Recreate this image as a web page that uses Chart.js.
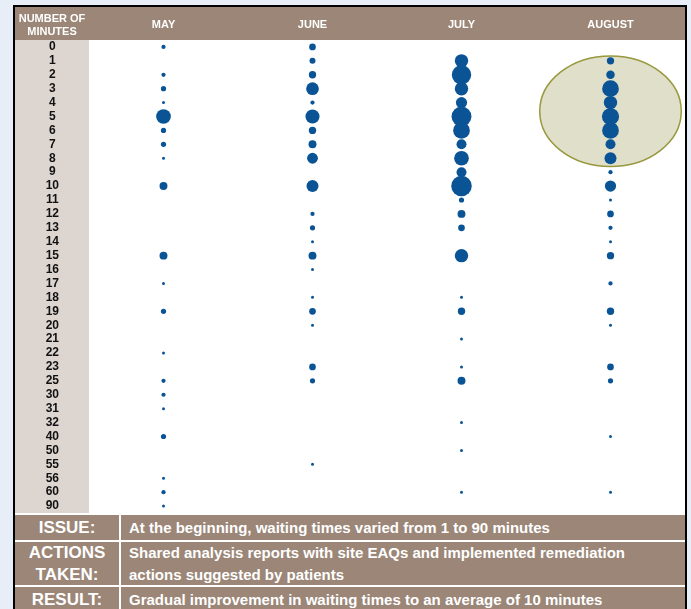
<!DOCTYPE html>
<html>
<head>
<meta charset="utf-8">
<script src="https://cdn.jsdelivr.net/npm/chart.js@4.4.1/dist/chart.umd.min.js"></script>
<style>
  html, body { margin: 0; padding: 0; }
  body {
    width: 691px; height: 609px; overflow: hidden; position: relative;
    background: #e8eef8;
    font-family: "Liberation Sans Narrow", "Arial Narrow", "Liberation Sans", sans-serif;
  }
  #frame {
    position: absolute; left: 13px; top: 5px; width: 670px; height: 610px;
    border: 2px solid #000; border-bottom: none; background: #9b8677;
  }
  #plot { position: absolute; left: 0; top: 0; width: 670px; height: 506px; }
  #notes { position: absolute; left: 0; top: 506px; width: 670px; }
  .row { display: flex; border-top: 2px solid #fff; color: #fff; font-weight: bold; font-size: 15px; }
  .k { width: 104px; border-right: 2px solid #fff; text-align: center; font-size: 17px; }
  .v { flex: 1; padding-left: 8px; }
  .r1 { line-height: 25px; }
  .r2 { line-height: 21.5px; }
  .r3 { line-height: 26px; }
</style>
</head>
<body>
<div id="frame">
  <canvas id="plot" width="670" height="506"></canvas>
  <div id="notes">
    <div class="row r1"><div class="k">ISSUE:</div><div class="v">At the beginning, waiting times varied from 1 to 90 minutes</div></div>
    <div class="row r2"><div class="k">ACTIONS<br>TAKEN:</div><div class="v">Shared analysis reports with site EAQs and implemented remediation<br>actions suggested by patients</div></div>
    <div class="row r3"><div class="k">RESULT:</div><div class="v">Gradual improvement in waiting times to an average of 10 minutes</div></div>
  </div>
</div>
<script>
// months across the top, minute rows down the side
const months = ['MAY', 'JUNE', 'JULY', 'AUGUST'];
const minuteLabels = ['0','1','2','3','4','5','6','7','8','9','10','11','12','13','14','15','16','17',
  '18','19','20','21','22','23','25','30','31','32','40','50','55','56','60','90'];
const cornerTitle = ['NUMBER OF', 'MINUTES'];

// estimated number of patients per minute row (0 = no dot), one per month
const mayCounts    = [2,0,2,3,1,24,3,3,1,0, 7,0,0,0,0,7,0,1,0,3, 0,0,1,0,2,2,1,0,3,0, 0,1,2,1];
const juneCounts   = [5,4,6,18,2,22,6,7,13,0, 16,0,2,3,1,7,1,0,1,5, 1,0,0,5,3,0,0,0,0,0, 1,0,0,0];
const julyCounts   = [0,20,42,20,14,44,31,11,24,11, 47,3,7,5,0,20,0,0,1,6, 0,1,0,1,7,0,0,1,0,1, 0,0,1,0];
const augustCounts = [0,6,8,31,20,33,31,11,16,2, 14,1,5,2,1,6,0,2,0,6, 1,0,0,5,3,0,0,0,1,0, 0,0,1,0];

const highlight = { column: 'AUGUST', from: '1', to: '8' };

const BROWN = '#9b8677';
const BEIGE = '#ddd5d0';
const DOT = '#0a5496';
const FONT = '"Liberation Sans Narrow", "Arial Narrow", "Liberation Sans", sans-serif';

const monthCounts = [mayCounts, juneCounts, julyCounts, augustCounts];
const points = [];
monthCounts.forEach((counts, m) => {
  counts.forEach((n, i) => {
    if (n > 0) points.push({ x: months[m], y: minuteLabels[i], r: 1.5 * Math.sqrt(n) });
  });
});

const panelPaint = {
  id: 'panelPaint',
  beforeDraw(chart) {
    const { ctx, chartArea: a, width } = chart;
    ctx.save();
    ctx.fillStyle = BROWN;
    ctx.fillRect(0, 0, width, a.top);
    ctx.fillStyle = BEIGE;
    ctx.fillRect(0, a.top, a.left, a.bottom - a.top);
    ctx.fillStyle = '#fff';
    ctx.fillRect(a.left, a.top, a.right - a.left, a.bottom - a.top);
    ctx.font = 'bold 11px ' + FONT;
    ctx.textAlign = 'center';
    ctx.textBaseline = 'middle';
    ctx.fillText(cornerTitle[0], a.left / 2, a.top / 2 - 5);
    ctx.fillText(cornerTitle[1], a.left / 2, a.top / 2 + 8);
    ctx.restore();
  }
};

const ellipseMark = {
  id: 'ellipseMark',
  beforeDatasetsDraw(chart) {
    const { ctx, scales: { x, y } } = chart;
    const cx = x.getPixelForValue(months.indexOf(highlight.column));
    const top = y.getPixelForValue(minuteLabels.indexOf(highlight.from) - 0.35);
    const bottom = y.getPixelForValue(minuteLabels.indexOf(highlight.to) + 0.6);
    const rx = (x.getPixelForValue(1) - x.getPixelForValue(0)) * 0.475;
    ctx.save();
    ctx.beginPath();
    ctx.ellipse(cx, (top + bottom) / 2, rx, (bottom - top) / 2, 0, 0, Math.PI * 2);
    ctx.fillStyle = '#e0dfca';
    ctx.fill();
    ctx.lineWidth = 1.5;
    ctx.strokeStyle = '#98983e';
    ctx.stroke();
    ctx.restore();
  }
};

new Chart(document.getElementById('plot'), {
  type: 'bubble',
  data: {
    datasets: [{
      data: points,
      backgroundColor: DOT,
      borderWidth: 0,
      hoverRadius: 0,
      clip: false
    }]
  },
  options: {
    responsive: false,
    animation: false,
    devicePixelRatio: 1,
    layout: { padding: 0, autoPadding: false },
    plugins: { legend: { display: false }, tooltip: { enabled: false } },
    scales: {
      x: {
        type: 'category',
        labels: months,
        position: 'top',
        offset: true,
        grid: { display: false, drawTicks: false },
        border: { display: false },
        ticks: { color: '#fff', padding: 8, font: { family: FONT, size: 11, weight: 'bold' } },
        afterFit: s => { s.height = 33; s.paddingLeft = 0; s.paddingRight = 0; }
      },
      y: {
        type: 'category',
        labels: minuteLabels,
        offset: true,
        grid: { display: false, drawTicks: false },
        border: { display: false },
        ticks: {
          autoSkip: false, color: '#111', crossAlign: 'center', padding: 30,
          font: { family: FONT, size: 12, weight: 'bold' }
        },
        afterFit: s => { s.width = 74; s.paddingTop = 0; s.paddingBottom = 0; }
      }
    }
  },
  plugins: [panelPaint, ellipseMark]
});
</script>
</body>
</html>
